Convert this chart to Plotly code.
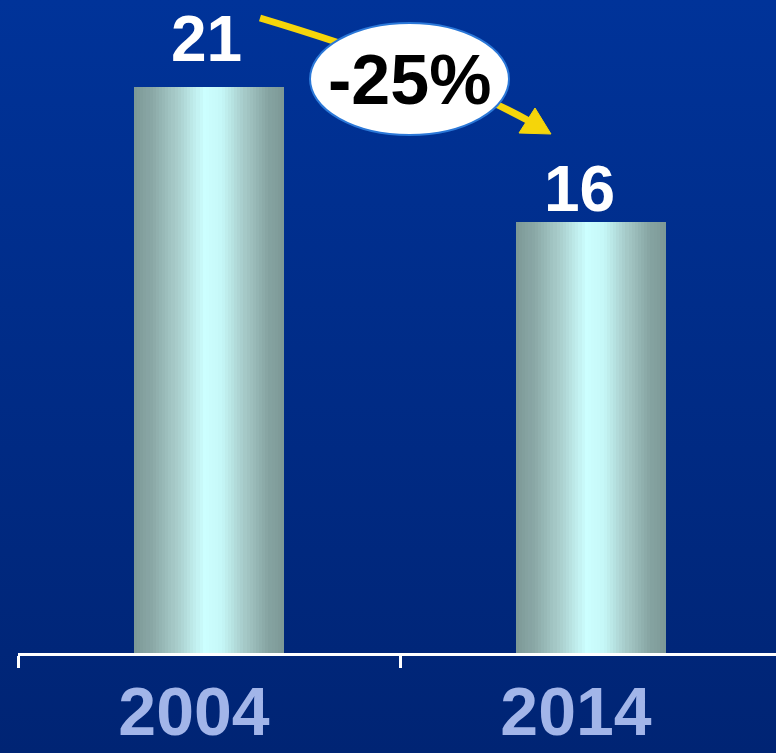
import plotly.graph_objects as go
from plotly.colors import sample_colorscale

# ---- data ----
years = ["2004", "2014"]
values = [21, 16]
value_labels = ["21", "16"]
change_label = "-25%"

# ---- styling ----
W, H = 776, 753
ML, MR, MT, MB = 18, 0, 0, 100
plot_w = W - ML - MR
plot_h = H - MT - MB
px_per_cat = 382.0
px_per_unit = 26.95
BW = 0.393
N = 48
bar_scale = [[0.0, "#7c9896"], [0.12, "#8aa8a6"], [0.3, "#abd0ce"], [0.47, "#ccffff"],
             [0.58, "#c6f8f8"], [0.75, "#a3c6c4"], [0.9, "#85a3a1"], [1.0, "#7c9896"]]

fig = go.Figure()
cols = sample_colorscale(bar_scale, [(i + 0.5) / N for i in range(N)])
for i in range(N):
    fig.add_trace(go.Bar(
        x=years, y=values,
        offset=-BW / 2 + i * BW / N,
        width=BW / N * 1.08 if i < N - 1 else BW / N,
        marker=dict(color=cols[i], line=dict(width=0)),
        showlegend=False, hoverinfo="skip" if i else "x+y",
    ))

def pxx(p):
    return (p - ML) / plot_w

def pxy(p):
    return (MT + plot_h - p) / plot_h

# value labels (category index positions)
xshifts = [-3, -12]
yshifts = [10, -5]
for idx, (v, lab, xs, ys) in enumerate(zip(values, value_labels, xshifts, yshifts)):
    fig.add_annotation(x=idx, y=v, xref="x", yref="y", text=lab, showarrow=False,
                       yanchor="bottom", xshift=xs, yshift=ys,
                       font=dict(family="Liberation Sans, Arial", size=64, color="white", weight="bold"))

# arrow (curved) and arrowhead
yellow = "#f5d50a"
p0 = (260, 18); c = (440, 72); p2 = (529, 121)
path = f"M {pxx(p0[0])},{pxy(p0[1])} Q {pxx(c[0])},{pxy(c[1])} {pxx(p2[0])},{pxy(p2[1])}"
fig.add_shape(type="path", path=path, xref="paper", yref="paper",
              line=dict(color=yellow, width=7), layer="above")
tip = (551, 134); w1 = (535, 108); w2 = (519, 133)
head = (f"M {pxx(tip[0])},{pxy(tip[1])} L {pxx(w1[0])},{pxy(w1[1])} "
        f"L {pxx(w2[0])},{pxy(w2[1])} Z")
fig.add_shape(type="path", path=head, xref="paper", yref="paper",
              line=dict(color=yellow, width=1), fillcolor=yellow, layer="above")

# ellipse
fig.add_shape(type="circle", xref="paper", yref="paper",
              x0=pxx(310), x1=pxx(509), y0=pxy(135), y1=pxy(23),
              fillcolor="white", line=dict(color="#2b78d8", width=2), layer="above")
fig.add_annotation(xref="paper", yref="paper", x=pxx(409), y=pxy(80), text=change_label,
                   showarrow=False, xanchor="center", yanchor="middle",
                   font=dict(family="Liberation Sans, Arial", size=70, color="black", weight="bold"))

# background gradient
svg = ("data:image/svg+xml;utf8,<svg xmlns='http://www.w3.org/2000/svg' width='10' height='100' "
       "preserveAspectRatio='none'><defs><linearGradient id='g' x1='0' y1='0' x2='0' y2='1'>"
       "<stop offset='0' stop-color='%23003399'/><stop offset='1' stop-color='%23002474'/>"
       "</linearGradient></defs><rect width='10' height='100' fill='url(%23g)'/></svg>")
fig.add_layout_image(source=svg, xref="paper", yref="paper",
                     x=-ML / plot_w, y=1 + MT / plot_h, sizex=W / plot_w, sizey=H / plot_h,
                     xanchor="left", yanchor="top", sizing="stretch", layer="below")

fig.update_layout(
    width=W, height=H, margin=dict(l=ML, r=MR, t=MT, b=MB, autoexpand=False),
    paper_bgcolor="#002c88", plot_bgcolor="rgba(0,0,0,0)",
    barmode="overlay", bargap=0, showlegend=False,
    xaxis=dict(type="category", range=[-0.5, -0.5 + plot_w / px_per_cat], automargin=False,
               showline=True, linecolor="white", linewidth=3,
               ticks="outside", tickson="boundaries", ticklen=12, tickwidth=3, tickcolor="white",
               ticklabelshift=-15, ticklabelstandoff=-3,
               tickfont=dict(family="Liberation Sans, Arial", size=68, color="#a2b5e9", weight="bold"),
               showgrid=False, zeroline=False, fixedrange=True),
    yaxis=dict(range=[0, plot_h / px_per_unit], visible=False, showgrid=False, zeroline=False,
               fixedrange=True, automargin=False),
)

fig.write_html("out.html", config={"displayModeBar": False},
               post_script="document.body.style.margin='0';document.body.style.overflow='hidden';")
